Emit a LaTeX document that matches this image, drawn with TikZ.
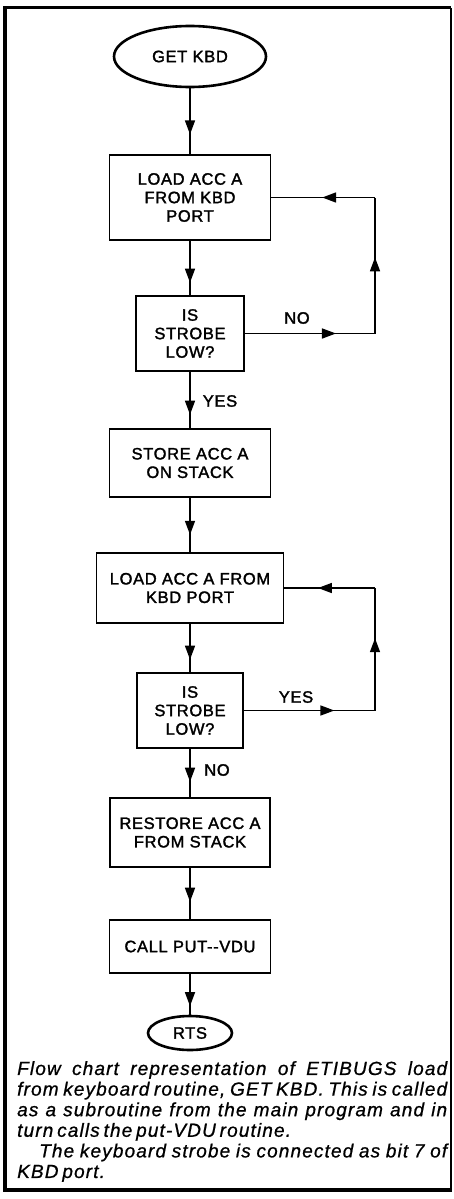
\documentclass[tikz,border=0pt]{standalone}
\usepackage{fontspec}
\setmainfont{Liberation Sans}
\newfontfamily\boxfont[LetterSpace=4,FakeBold=1.8]{Liberation Sans}
\newfontfamily\capfont[LetterSpace=6,WordSpace=0.6,FakeBold=0.8]{Liberation Sans}
\usetikzlibrary{shapes.geometric,decorations.markings,arrows.meta}
\tikzset{
  box/.style={draw, line width=1.8pt, align=center, inner sep=0pt,
    font=\boxfont\fontsize{16.5}{18.5}\selectfont},
  term/.style={box, ellipse, line width=2.6pt},
  conn/.style={line width=1.6pt},
  midarrow/.style={decoration={markings,
      mark=at position #1 with {\arrow{Triangle[width=10pt,length=14pt]}}},
    postaction={decorate}},
  midarrow/.default=0.5,
  lbl/.style={inner sep=0pt, font=\boxfont\fontsize{16.5}{18.5}\selectfont},
}
\begin{document}
\begin{tikzpicture}[x=1pt,y=-1pt]
\useasboundingbox (0,0) rectangle (454,1199);
% frame
\draw[line width=1.5pt] (451,8) -- (451,1190);
\draw[line width=3pt] (5,8) -- (451,8);
\draw[line width=4pt] (5,6.5) -- (5,1190);
\draw[line width=4.5pt] (3,1190) -- (452,1190);
% nodes
\node[term, minimum width=152, minimum height=61] (start) at (190,56.5) {GET KBD};
\node[box, minimum width=161, minimum height=85] (b1) at (190,197.5) {LOAD ACC A\\FROM KBD\\PORT};
\node[box, minimum width=108, minimum height=75] (b2) at (190,333.5) {IS\\STROBE\\LOW?};
\node[box, minimum width=161, minimum height=68] (b3) at (190,463) {STORE ACC A\\ON STACK};
\node[box, minimum width=187, minimum height=70] (b4) at (190,588) {LOAD ACC A FROM\\KBD PORT};
\node[box, minimum width=106, minimum height=75] (b5) at (190,710.5) {IS\\STROBE\\LOW?};
\node[box, minimum width=160, minimum height=69] (b6) at (190,832.5) {RESTORE ACC A\\FROM STACK};
\node[box, minimum width=161, minimum height=53] (b7) at (190,946.5) {CALL PUT-{}-VDU};
\node[term, minimum width=84, minimum height=34] (rts) at (190,1033) {RTS};
% loop corners
\coordinate (l1a) at (375,333.5);
\coordinate (l1b) at (375,197.5);
\coordinate (l2a) at (375,710.5);
\coordinate (l2b) at (375,588);
% main flow
\draw[conn, midarrow=0.7] (start) -- (b1);
\draw[conn, midarrow=0.77] (b1) -- (b2);
\draw[conn, midarrow=0.76] (b2) -- (b3);
\draw[conn, midarrow=0.68] (b3) -- (b4);
\draw[conn, midarrow=0.74] (b4) -- (b5);
\draw[conn, midarrow=0.68] (b5) -- (b6);
\draw[conn, midarrow=0.66] (b6) -- (b7);
\draw[conn, midarrow=0.79] (b7) -- (rts);
% loop 1
\draw[conn, midarrow=0.7] (b2.east) -- (l1a);
\draw[conn, midarrow=0.56] (l1a) -- (l1b);
\draw[conn, midarrow=0.51] (l1b) -- (b1.east);
% loop 2
\draw[conn, midarrow=0.69] (b5.east) -- (l2a);
\draw[conn, midarrow=0.59] (l2a) -- (l2b);
\draw[conn, midarrow=0.63] (l2b) -- (b4.east);
% labels
\node[lbl] (no1) at (297,318) {NO};
\node[lbl] (yes1) at (220,401) {YES};
\node[lbl] (yes2) at (296,697) {YES};
\node[lbl] (no2) at (217,770) {NO};
% caption
\node[anchor=north west, inner sep=0pt, text width=430pt, align=justify,
  font=\capfont\itshape\fontsize{19}{20.6}\selectfont] (cap) at (17,1061)
  {Flow chart representation of ETIBUGS load\linebreak
   from keyboard routine, GET KBD. This is called\linebreak
   as a subroutine from the main program and in\linebreak
   turn calls the put-VDU routine.\par
   \hspace*{22pt}The keyboard strobe is connected as bit 7 of\linebreak
   KBD port.};
\end{tikzpicture}
\end{document}
